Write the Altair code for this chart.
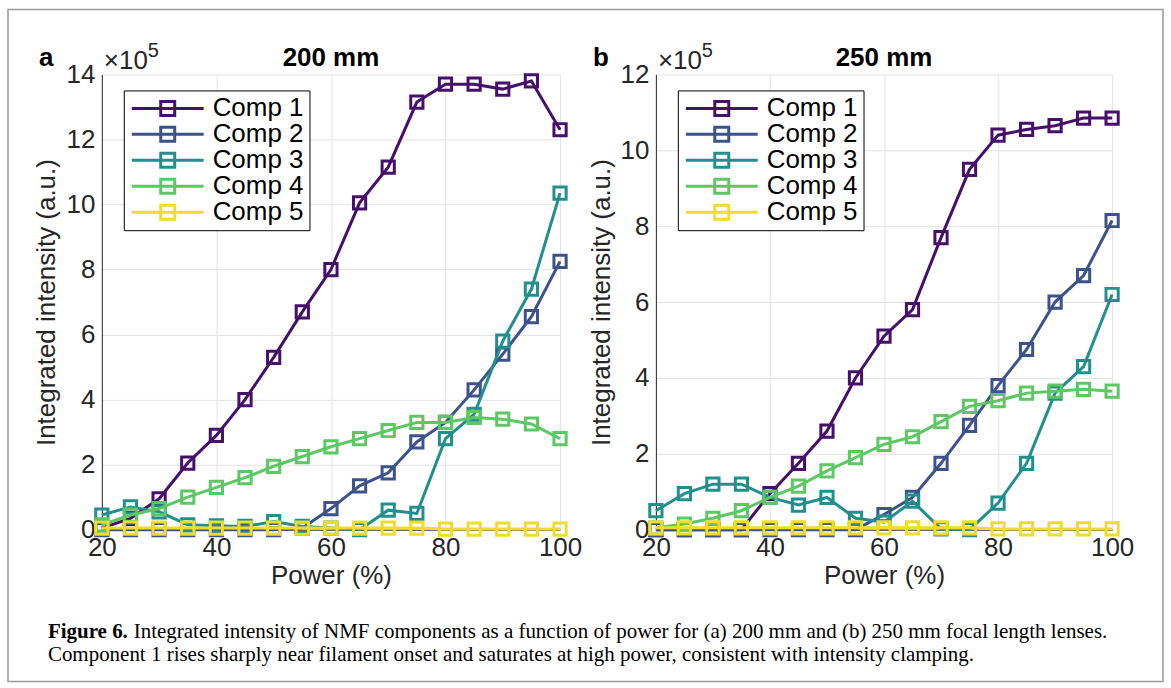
import altair as alt
import pandas as pd

# Laser power settings (%)
power = [20, 25, 30, 35, 40, 45, 50, 55, 60, 65, 70, 75, 80, 85, 90, 95, 100]

# Integrated intensity of each NMF component, in units of 1e5 (a.u.)
# (a) 200 mm focal length lens
a_comp1 = [0.05, 0.35, 0.95, 2.05, 2.9, 4.0, 5.3, 6.7, 8.0, 10.05, 11.15, 13.15, 13.7, 13.7, 13.55, 13.8, 12.3]
a_comp2 = [0.0, 0.0, 0.0, 0.0, 0.0, 0.0, 0.0, 0.05, 0.65, 1.35, 1.75, 2.7, 3.3, 4.3, 5.4, 6.55, 8.25]
a_comp3 = [0.45, 0.7, 0.55, 0.15, 0.12, 0.1, 0.25, 0.1, 0.05, 0.0, 0.6, 0.5, 2.8, 3.55, 5.8, 7.4, 10.35]
a_comp4 = [0.15, 0.45, 0.65, 1.0, 1.3, 1.6, 1.95, 2.25, 2.55, 2.8, 3.05, 3.3, 3.3, 3.45, 3.4, 3.25, 2.8]
a_comp5 = [0.05, 0.05, 0.05, 0.05, 0.05, 0.05, 0.05, 0.05, 0.05, 0.05, 0.05, 0.05, 0.02, 0.02, 0.02, 0.02, 0.02]

# (b) 250 mm focal length lens
b_comp1 = [0.0, 0.0, 0.0, 0.0, 0.95, 1.75, 2.6, 4.0, 5.1, 5.8, 7.7, 9.5, 10.4, 10.55, 10.65, 10.85, 10.85]
b_comp2 = [0.0, 0.0, 0.0, 0.0, 0.0, 0.0, 0.0, 0.0, 0.4, 0.85, 1.75, 2.75, 3.8, 4.75, 6.0, 6.7, 8.15]
b_comp3 = [0.5, 0.95, 1.2, 1.2, 0.85, 0.65, 0.85, 0.3, 0.2, 0.75, 0.02, 0.0, 0.7, 1.75, 3.6, 4.3, 6.2]
b_comp4 = [0.05, 0.15, 0.3, 0.5, 0.85, 1.15, 1.55, 1.9, 2.25, 2.45, 2.85, 3.25, 3.4, 3.6, 3.65, 3.7, 3.65]
b_comp5 = [0.05, 0.05, 0.05, 0.05, 0.05, 0.05, 0.05, 0.05, 0.05, 0.05, 0.05, 0.05, 0.02, 0.02, 0.02, 0.02, 0.02]

components = ["Comp 1", "Comp 2", "Comp 3", "Comp 4", "Comp 5"]
colors = ["#46106a", "#3b528b", "#21908d", "#5dc863", "#f0dc2a"]

caption_bold = "Figure 6."
caption_line1 = ("Integrated intensity of NMF components as a function of power for (a) 200 mm "
                 "and (b) 250 mm focal length lenses.")
caption_line2 = ("Component 1 rises sharply near filament onset and saturates at high power, "
                 "consistent with intensity clamping.")

FONT = "Liberation Sans"
SERIF = "Liberation Serif"
INK = "#262626"
FS = 26

# legend glyph: a line with an open square in the middle
LEGEND_GLYPH = "M-1,0H6.2M1.9,-0.7H3.3V0.7H1.9Z"


def long_table(series):
    rows = []
    for name, vals in zip(components, series):
        for p, v in zip(power, vals):
            rows.append({"power": p, "value": v, "comp": name})
    return pd.DataFrame(rows)


def panel(series, ymax, letter, title, width, height, caption=False):
    df = long_table(series)
    base = alt.Chart(df)
    x = alt.X("power:Q", title="Power (%)",
              scale=alt.Scale(domain=[20, 100], nice=False),
              axis=alt.Axis(values=[20, 40, 60, 80, 100], labelFlush=False,
                            labelPadding=5, titlePadding=2))
    y = alt.Y("value:Q", title="Integrated intensity (a.u.)",
              scale=alt.Scale(domain=[0, ymax], nice=False),
              axis=alt.Axis(values=list(range(0, ymax + 1, 2)), labelFlush=False,
                            labelPadding=7, titlePadding=6))
    color = alt.Color(
        "comp:N",
        scale=alt.Scale(domain=components, range=colors),
        legend=alt.Legend(
            title=None, orient="none", legendX=22, legendY=16,
            strokeColor="black", fillColor="white", padding=5,
            symbolType=LEGEND_GLYPH, symbolSize=400, symbolStrokeWidth=3,
            symbolFillColor="transparent", labelOffset=58,
            labelFont=FONT, labelFontSize=FS, labelColor="black",
            rowPadding=0,
        ),
    )
    layers = []
    for comp in components:
        sub = base.transform_filter(alt.datum.comp == comp)
        layers.append(sub.mark_line(strokeWidth=3).encode(x=x, y=y, color=color))
        layers.append(sub.mark_point(shape="square", size=150, strokeWidth=3, filled=False,
                                     opacity=1).encode(x=x, y=y, color=color))

    def label(text, dx, dy, size, weight="normal", align="left", font=FONT, color=INK):
        return alt.Chart(pd.DataFrame({"t": [text]})).mark_text(
            align=align, baseline="alphabetic", font=font, fontSize=size,
            fontWeight=weight, color=color,
        ).encode(text="t:N", x=alt.value(dx), y=alt.value(dy))

    layers.append(label(letter, -63, -8, FS, "bold", color="black"))
    layers.append(label(title, width / 2, -8, FS, "bold", align="center", color="black"))
    layers.append(label("\u00d710", 2, -5, FS))
    layers.append(label("5", 46, -17, 20))

    if caption:
        layers.append(label(caption_bold, -54, 565, 21, "bold", font=SERIF, color="black"))
        layers.append(label(caption_line1, 32, 565, 21, font=SERIF, color="black"))
        layers.append(label(caption_line2, -54, 588, 21, font=SERIF, color="black"))
        # outer frame of the figure
        layers.append(
            alt.Chart(pd.DataFrame({"k": [0]})).mark_rect(
                fill=None, stroke="#9a9a9a", strokeWidth=1.5
            ).encode(x=alt.value(-94), x2=alt.value(1063), y=alt.value(-65), y2=alt.value(608))
        )

    return alt.layer(*layers).properties(width=width, height=height)


panel_a = panel([a_comp1, a_comp2, a_comp3, a_comp4, a_comp5], 14, "a", "200 mm", 459, 456,
                caption=True)
panel_b = panel([b_comp1, b_comp2, b_comp3, b_comp4, b_comp5], 12, "b", "250 mm", 457, 456)

chart = (
    alt.hconcat(panel_a, panel_b, spacing=96, bounds="flush")
    .resolve_scale(color="independent", y="independent")
    .resolve_legend(color="independent")
    .properties(padding={"left": 7, "top": 8, "right": 7, "bottom": 7}, background="white")
    .configure_view(stroke=None)
    .configure_axis(
        labelFont=FONT, labelFontSize=FS, labelColor=INK,
        titleFont=FONT, titleFontSize=FS, titleColor=INK, titleFontWeight="normal",
        domainColor=INK, domainWidth=1,
        gridColor="#e3e3e3", gridWidth=1,
        ticks=False,
    )
)

chart.save("out.html", embed_options={"renderer": "svg", "actions": False})
